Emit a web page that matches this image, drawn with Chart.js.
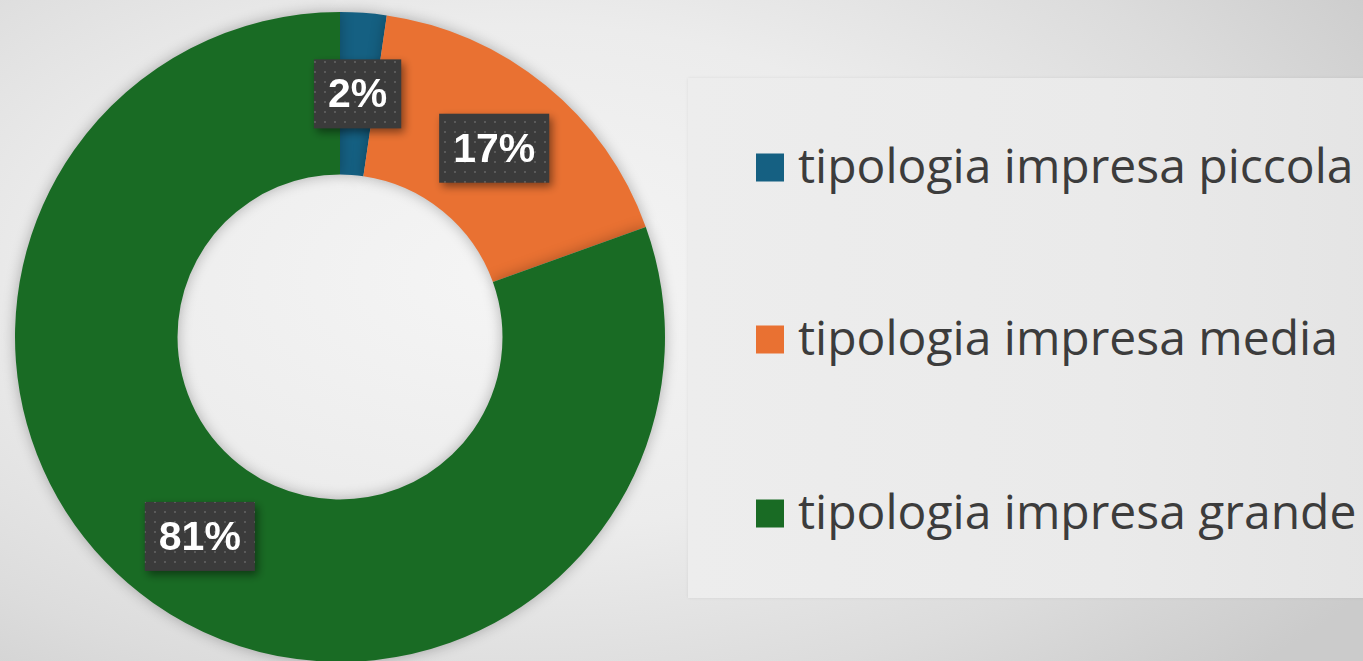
<!DOCTYPE html>
<html lang="it">
<head>
  <meta charset="UTF-8" />
  <title>Tipologia impresa</title>
  <script src="https://cdn.jsdelivr.net/npm/chart.js"></script>
  <style>
    html, body {
      margin: 0;
      padding: 0;
      width: 1363px;
      height: 661px;
      overflow: hidden;
    }
    body {
      position: relative;
      background: radial-gradient(ellipse 75% 85% at 38% 42%, #f5f5f5 0%, #ececec 45%, #dcdcdc 75%, #cbcbcb 100%);
      font-family: 'Open Sans', sans-serif;
    }
    #chartWrap {
      position: absolute;
      left: 0;
      top: -3px;
      width: 680px;
      height: 680px;
    }
    .legend-box {
      position: absolute;
      left: 688px;
      top: 78px;
      width: 700px;
      height: 520px;
      background: linear-gradient(90deg, #ededed, #eaeaea 60%, #e4e4e4);
      box-shadow: 0 0 3px rgba(0,0,0,0.08);
    }
    .legend-item {
      position: absolute;
      left: 68px;
      display: flex;
      align-items: center;
      color: #3c3c3c;
      font-size: 48px;
      white-space: nowrap;
      transform: translateY(-50%);
    }
    .legend-item .swatch {
      width: 28px;
      height: 28px;
      margin-right: 14px;
      margin-top: 6px;
    }
  </style>
</head>
<body>
  <div id="chartWrap"><canvas id="donut" width="680" height="680"></canvas></div>
  <div class="legend-box" id="legend"></div>

  <script>
    const labels = ['tipologia impresa piccola', 'tipologia impresa media', 'tipologia impresa grande'];
    const values = [2.3, 17.2, 80.5];
    const percentLabels = ['2%', '17%', '81%'];
    const colors = ['#156082', '#E97132', '#196B24'];

    // dotted fill for the label boxes
    function dotPattern(ctx) {
      const p = document.createElement('canvas');
      p.width = 10; p.height = 10;
      const pc = p.getContext('2d');
      pc.fillStyle = '#3b3b3b';
      pc.fillRect(0, 0, 10, 10);
      pc.fillStyle = 'rgba(255,255,255,0.16)';
      pc.fillRect(4, 4, 2, 2);
      return ctx.createPattern(p, 'repeat');
    }

    const ringShadow = {
      id: 'ringShadow',
      beforeDatasetsDraw(chart) {
        const ctx = chart.ctx;
        ctx.save();
        ctx.shadowColor = 'rgba(0,0,0,0.28)';
        ctx.shadowBlur = 14;
      },
      afterDatasetsDraw(chart) {
        chart.ctx.restore();
      }
    };

    const boxLabels = {
      id: 'boxLabels',
      afterDatasetsDraw(chart) {
        const ctx = chart.ctx;
        const meta = chart.getDatasetMeta(0);
        const fill = dotPattern(ctx);
        ctx.save();
        ctx.font = 'bold 41px "Liberation Sans", Arial, sans-serif';
        ctx.textAlign = 'center';
        ctx.textBaseline = 'middle';
        meta.data.forEach((arc, i) => {
          const pos = arc.tooltipPosition();
          const txt = percentLabels[i];
          const w = ctx.measureText(txt).width + 28;
          const h = 69;
          const x = pos.x - w / 2, y = pos.y - h / 2;
          ctx.save();
          ctx.shadowColor = 'rgba(0,0,0,0.45)';
          ctx.shadowBlur = 8;
          ctx.shadowOffsetX = 3;
          ctx.shadowOffsetY = 4;
          ctx.fillStyle = fill;
          ctx.fillRect(x, y, w, h);
          ctx.restore();
          ctx.fillStyle = '#ffffff';
          ctx.fillText(txt, pos.x, pos.y + 2);
        });
        ctx.restore();
      }
    };

    new Chart(document.getElementById('donut'), {
      type: 'doughnut',
      data: {
        labels: labels,
        datasets: [{
          data: values,
          backgroundColor: colors,
          borderWidth: 0
        }]
      },
      options: {
        responsive: false,
        animation: false,
        cutout: '50%',
        layout: { padding: 15 },
        plugins: {
          legend: { display: false },
          tooltip: { enabled: false }
        }
      },
      plugins: [ringShadow, boxLabels]
    });

    // legend built from the same arrays
    const legend = document.getElementById('legend');
    const rowY = [86, 258, 432];
    labels.forEach((lab, i) => {
      const item = document.createElement('div');
      item.className = 'legend-item';
      item.style.top = rowY[i] + 'px';
      const sw = document.createElement('span');
      sw.className = 'swatch';
      sw.style.background = colors[i];
      const t = document.createElement('span');
      t.textContent = lab;
      item.appendChild(sw);
      item.appendChild(t);
      legend.appendChild(item);
    });
  </script>
</body>
</html>
